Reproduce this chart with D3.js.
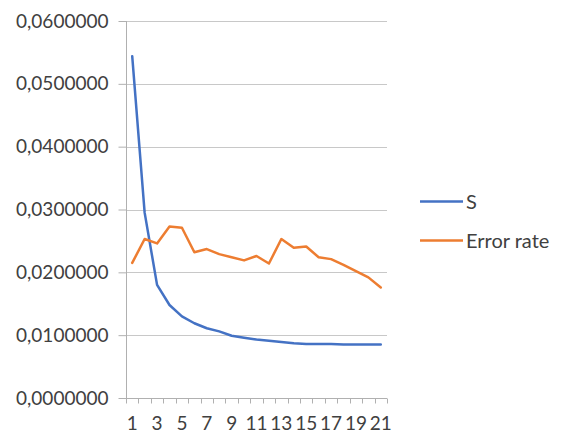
<!DOCTYPE html>
<html><head><meta charset="utf-8">
<script src="https://cdn.jsdelivr.net/npm/d3@7"></script>
<style>body{margin:0;background:#fff}svg{display:block}text{font-family:Lato,"Open Sans",sans-serif;fill:#404040}</style>
</head><body>
<script>
const categories = d3.range(1, 22);
const sValues = [0.0544,0.0295,0.0180,0.0148,0.0130,0.0119,0.0111,0.0106,0.0099,0.0096,0.0093,0.0091,0.0089,0.0087,0.0086,0.0086,0.0086,0.0085,0.0085,0.0085,0.0085];
const errorRate = [0.0215,0.0253,0.0246,0.0273,0.0271,0.0232,0.0237,0.0229,0.0224,0.0219,0.0226,0.0214,0.0253,0.0239,0.0241,0.0224,0.0221,0.0212,0.0202,0.0192,0.0176];
const yTicks = [0,0.01,0.02,0.03,0.04,0.05,0.06];
const xTickLabels = [1,3,5,7,9,11,13,15,17,19,21];
const seriesNames = ["S","Error rate"];
const colors = ["#4472c4","#ed7d31"];

const W=564,H=438;
const svg=d3.select("body").append("svg").attr("width",W).attr("height",H);
const x=d3.scaleBand().domain(categories).range([126,387]);
const y=d3.scaleLinear().domain([0,0.06]).range([398,21]);

// gridlines
svg.append("g").selectAll("line").data(yTicks.slice(1)).join("line")
  .attr("x1",126).attr("x2",387).attr("y1",d=>Math.round(y(d))+0.5).attr("y2",d=>Math.round(y(d))+0.5)
  .attr("stroke","#c8c8c8").attr("stroke-width",1);

// y axis
const ya=svg.append("g").attr("transform","translate(126.5,0)")
  .call(d3.axisLeft(y).tickValues(yTicks).tickSize(8).tickPadding(10)
    .tickFormat(d=>d3.format(".7f")(d).replace(".",",")));
ya.select(".domain").attr("stroke","#b0b0b0").attr("d","M0,"+y(0.06)+"V"+y(0));
ya.selectAll(".tick line").attr("stroke","#b0b0b0");
ya.selectAll(".tick text").attr("font-size",19).style("fill","#404040").attr("font-family","Lato");

// x axis
const xa=svg.append("g").attr("transform","translate(0,398.5)");
xa.append("line").attr("x1",126).attr("x2",387).attr("stroke","#b0b0b0");
const bounds=categories.map(c=>x(c)).concat([x.range()[1]]);
xa.selectAll("line.t").data(bounds).join("line").attr("class","t")
  .attr("x1",d=>Math.round(d)+0.5).attr("x2",d=>Math.round(d)+0.5).attr("y1",0).attr("y2",5).attr("stroke","#b0b0b0");
xa.selectAll("text").data(xTickLabels).join("text")
  .attr("x",d=>x(d)+x.bandwidth()/2).attr("y",31).attr("text-anchor","middle")
  .attr("font-size",19).text(d=>d);

// lines
const line=d3.line().x((d,i)=>x(categories[i])+x.bandwidth()/2).y(d=>y(d));
[sValues,errorRate].forEach((vals,k)=>{
  svg.append("path").datum(vals).attr("d",line).attr("fill","none")
    .attr("stroke",colors[k]).attr("stroke-width",2.5).attr("stroke-linejoin","round").attr("stroke-linecap","round");
});

// legend
const lg=svg.append("g");
seriesNames.forEach((n,i)=>{
  const yy=201.5+i*39;
  lg.append("line").attr("x1",420).attr("x2",463).attr("y1",yy).attr("y2",yy).attr("stroke",colors[i]).attr("stroke-width",2.5);
  lg.append("text").attr("x",466).attr("y",yy).attr("dy","0.35em").attr("font-size",20).text(n);
});
</script>
</body></html>
